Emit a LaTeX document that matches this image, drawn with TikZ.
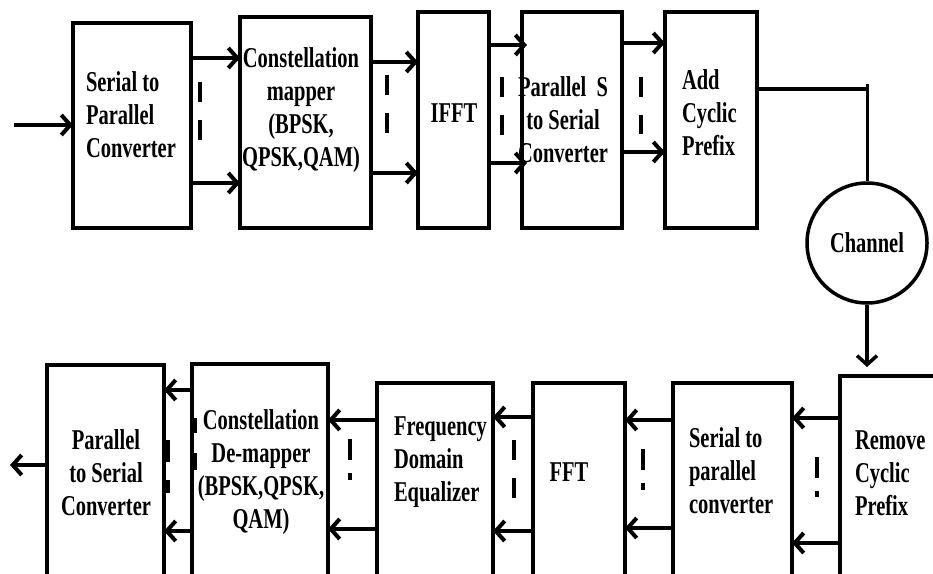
\documentclass[tikz,border=0pt]{standalone}
\usepackage{fontspec}
\setmainfont{Liberation Serif}[FakeStretch=0.714]
\usetikzlibrary{arrows.meta,positioning}

\begin{document}
\begin{tikzpicture}[x=1pt, y=-1pt, line width=4pt, >={Straight Barb[length=9pt,width=20pt]},
    box/.style={draw, rectangle, inner sep=0pt, outer sep=0pt, anchor=south west},
    lbl/.style={font=\fontsize{28.7}{33}\selectfont\bfseries, inner sep=0pt},
    gap/.style={line width=4.5pt, dash pattern=on 20pt off 18pt},
    gapdot/.style={line width=4.5pt, dash pattern=on 21pt off 13pt on 7pt off 40pt}]
        \useasboundingbox (0,0) rectangle (933,573);

        % Transmitter blocks
        \node (sp) [box, minimum width=118pt, minimum height=205pt] at (73,228) {};
        \node (mapper) [box, minimum width=131pt, minimum height=211pt, right=49pt of sp.south east, anchor=south west] {};
        \node (ifft) [box, minimum width=71pt, minimum height=216pt, right=47pt of mapper.south east, anchor=south west] {};
        \node (ps) [box, minimum width=100pt, minimum height=216pt, right=33pt of ifft.south east, anchor=south west] {};
        \node (addcp) [box, minimum width=92pt, minimum height=216pt, right=43pt of ps.south east, anchor=south west] {};
        \node (chan) [draw, circle, lbl, minimum size=120pt, line width=3.5pt] at (867,243) {Channel};

        % Receiver blocks
        \node (rmcp) [box, minimum width=110pt, minimum height=206pt] at (840,582) {};
        \node (sprx) [box, minimum width=119pt, minimum height=199pt, left=48pt of rmcp.south west, anchor=south east] {};
        \node (fft) [box, minimum width=92pt, minimum height=199pt, left=48pt of sprx.south west, anchor=south east] {};
        \node (fde) [box, minimum width=116pt, minimum height=199pt, left=40pt of fft.south west, anchor=south east] {};
        \node (demap) [box, minimum width=136pt, minimum height=218pt, left=49pt of fde.south west, anchor=south east] {};
        \node (psrx) [box, minimum width=117pt, minimum height=217pt, left=28pt of demap.south west, anchor=south east] {};

        % Texts
        \node (sp_t) [lbl, anchor=west, align=left] at (84,115) {Serial to\\Parallel\\Converter};
        \node (mapper_t) [lbl, align=center] at (301,110) {Constellation\\mapper\\(BPSK,\\QPSK,QAM)};
        \node (ifft_t) [lbl] at (454,113) {IFFT};
        \node (ps_t) [lbl, align=center] at (563,120) {Parallel\ \ S\\to Serial\\Converter};
        \node (addcp_t) [lbl, anchor=west, align=left] at (680,113) {Add\\Cyclic\\Prefix};
        \node (psrx_t) [lbl, align=center] at (106,473) {Parallel\\to Serial\\Converter};
        \node (demap_t) [lbl, align=center] at (261,472) {Constellation\\De-mapper\\(BPSK,QPSK,\\QAM)};
        \node (fde_t) [lbl, anchor=west, align=left] at (392,462) {Frequency\\Domain\\Equalizer};
        \node (fft_t) [lbl] at (569,472) {FFT};
        \node (sprx_t) [lbl, anchor=west, align=left] at (687,471) {Serial to\\parallel\\converter};
        \node (rmcp_t) [lbl, anchor=west, align=left] at (853,473) {Remove\\Cyclic\\Prefix};

        % Transmit path
        \coordinate (src) at (14,125);
        \draw[->] (src) -- (sp.west |- src);
        \draw[->] (sp.east |- 0,58) -- (mapper.west |- 0,58);
        \draw[->] (sp.east |- 0,183) -- (mapper.west |- 0,183);
        \draw[->] (mapper.east |- 0,62) -- (ifft.west |- 0,62);
        \draw[->] (mapper.east |- 0,173) -- (ifft.west |- 0,173);
        \draw[->, shorten >=-5pt] (ifft.east |- 0,45) -- (ps.west |- 0,45);
        \draw[->, shorten >=-5pt] (ifft.east |- 0,163) -- (ps.west |- 0,163);
        \draw[->] (ps.east |- 0,43) -- (addcp.west |- 0,43);
        \draw[->] (ps.east |- 0,152) -- (addcp.west |- 0,152);
        \draw[gap] (200,82) -- (200,141);
        \draw[gap] (387,75) -- (387,135);
        \draw[gap] (502,77) -- (502,136);
        \draw[gap] (641,77) -- (641,134);

        % Channel
        \draw (addcp.east |- 0,89) -- (chan.north |- 0,89);
        \draw[line width=3pt] (chan.north |- 0,84) -- (chan.north);
        \draw[->, line width=3.5pt, shorten >=9pt] (chan.south) -- (chan.south |- rmcp.north);

        % Receive path
        \draw[->] (rmcp.west |- 0,418) -- (sprx.east |- 0,418);
        \draw[->] (rmcp.west |- 0,543) -- (sprx.east |- 0,543);
        \draw[->] (sprx.west |- 0,420) -- (fft.east |- 0,420);
        \draw[->] (sprx.west |- 0,528) -- (fft.east |- 0,528);
        \draw[->] (fft.west |- 0,417) -- (fde.east |- 0,417);
        \draw[->] (fft.west |- 0,531) -- (fde.east |- 0,531);
        \draw[->] (fde.west |- 0,420) -- (demap.east |- 0,420);
        \draw[->] (fde.west |- 0,529) -- (demap.east |- 0,529);
        \draw[->] (demap.west |- 0,390) -- (psrx.east |- 0,390);
        \draw[->] (demap.west |- 0,531) -- (psrx.east |- 0,531);
        \coordinate (sink) at (10,465);
        \draw[->] (psrx.west |- sink) -- (sink);
        \draw[gapdot] (817,457) -- (817,497);
        \draw[gapdot] (643,449) -- (643,496);
        \draw[gap] (514,440) -- (514,499);
        \draw[gapdot] (350,439) -- (350,490);
        \draw[line width=5pt] (167,440) -- (167,462) (167,480) -- (167,493);
        \draw[line width=5pt] (194,418) -- (194,433) (194,453) -- (194,470);
    \end{tikzpicture}
\end{document}
